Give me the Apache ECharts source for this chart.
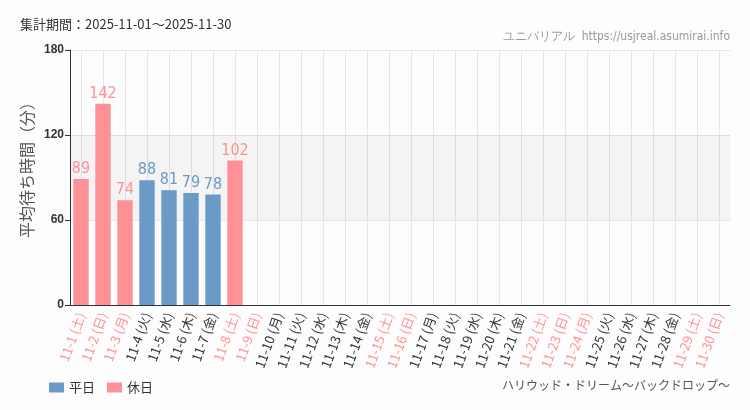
<!DOCTYPE html>
<html><head><meta charset="utf-8">
<script src="https://cdn.jsdelivr.net/npm/echarts@6/dist/echarts.min.js"></script>
<style>html,body{margin:0;padding:0;background:#fcfdfc;}#c{width:750px;height:410px;}</style>
</head><body><div id="c"></div>
<script>
const categories = ["11-1 (土)","11-2 (日)","11-3 (月)","11-4 (火)","11-5 (水)","11-6 (木)","11-7 (金)","11-8 (土)","11-9 (日)","11-10 (月)","11-11 (火)","11-12 (水)","11-13 (木)","11-14 (金)","11-15 (土)","11-16 (日)","11-17 (月)","11-18 (火)","11-19 (水)","11-20 (木)","11-21 (金)","11-22 (土)","11-23 (日)","11-24 (月)","11-25 (火)","11-26 (水)","11-27 (木)","11-28 (金)","11-29 (土)","11-30 (日)"];
const holidayFlags = [1,1,1,0,0,0,0,1,1,0,0,0,0,0,1,1,0,0,0,0,0,1,1,1,0,0,0,0,1,1];
const weekdayValues = [null,null,null,88,81,79,78,null,null,null,null,null,null,null,null,null,null,null,null,null,null,null,null,null,null,null,null,null,null,null];
const holidayValues = [89,142,74,null,null,null,null,102,null,null,null,null,null,null,null,null,null,null,null,null,null,null,null,null,null,null,null,null,null,null];
const yTicks = [0,60,120,180];

const BLUE = '#6a9ac6', PINK = '#ff9196';
const condFont = '"DejaVu Sans Condensed","Liberation Sans Narrow",sans-serif';
const chart = echarts.init(document.getElementById('c'));
chart.setOption({
  backgroundColor: '#fcfdfc',
  animation: false,
  grid: {left: 70, right: 20, top: 50, bottom: 105},
  graphic: [
    {type:'text', left: 20, top: 18, style:{text:'集計期間：2025-11-01～2025-11-30', fill:'#333', font:'13px "Noto Sans CJK JP"'}},
    {type:'text', right: 20, top: 31, style:{text:'ユニバリアル  https://usjreal.asumirai.info', fill:'#999', font:'12px ' + condFont}},
    {type:'text', right: 20, top: 379, style:{text:'ハリウッド・ドリーム～バックドロップ～', fill:'#555', font:'12px "Noto Sans CJK JP"'}},
    {type:'text', x: 27, y: 166, rotation: Math.PI/2,
     style:{text:'平均待ち時間（分）', fill:'#555', font:'16px "Noto Sans CJK JP"', align:'center', verticalAlign:'middle'}}
  ],
  legend: {
    left: 44, top: 376, itemWidth: 15, itemHeight: 10, itemGap: 12,
    icon: 'rect',
    textStyle: {color:'#333', fontSize: 13, fontFamily: '"Noto Sans CJK JP"'},
    data: ['平日','休日']
  },
  xAxis: {
    type: 'category', data: categories, boundaryGap: true,
    axisLine: {lineStyle: {color: '#333'}},
    axisTick: {alignWithLabel: true, length: 5, lineStyle:{color:'#333'}},
    splitLine: {show: true, alignWithLabel: true, lineStyle: {color: '#e6e6e6'}},
    axisLabel: {
      interval: 0, rotate: 70, fontSize: 13, fontFamily: '"Noto Sans CJK JP"', margin: 8,
      color: function(v, i){ return holidayFlags[i] ? PINK : '#333'; }
    }
  },
  yAxis: {
    type: 'value', min: yTicks[0], max: yTicks[yTicks.length-1], interval: 60,
    axisLine: {show: true, lineStyle: {color: '#333'}},
    axisTick: {show: true, length: 5, lineStyle:{color:'#333'}},
    axisLabel: {color: '#333', fontSize: 12, fontWeight: 'bold', margin: 6},
    splitLine: {show: true, lineStyle: {color: '#e6e6e6'}}
  },
  series: [
    {name:'平日', type:'bar', stack:'a', barWidth:'70%', data: weekdayValues,
     itemStyle:{color: BLUE},
     label:{show:true, position:'top', color: BLUE, fontSize: 16, fontFamily: condFont, distance: 2},
     markArea:{silent:true, itemStyle:{color:'rgba(0,0,0,0.035)'}, data:[[{yAxis:60},{yAxis:120}]]}},
    {name:'休日', type:'bar', stack:'a', barWidth:'70%', data: holidayValues,
     itemStyle:{color: PINK},
     label:{show:true, position:'top', color: PINK, fontSize: 16, fontFamily: condFont, distance: 2}}
  ]
});
</script></body></html>
